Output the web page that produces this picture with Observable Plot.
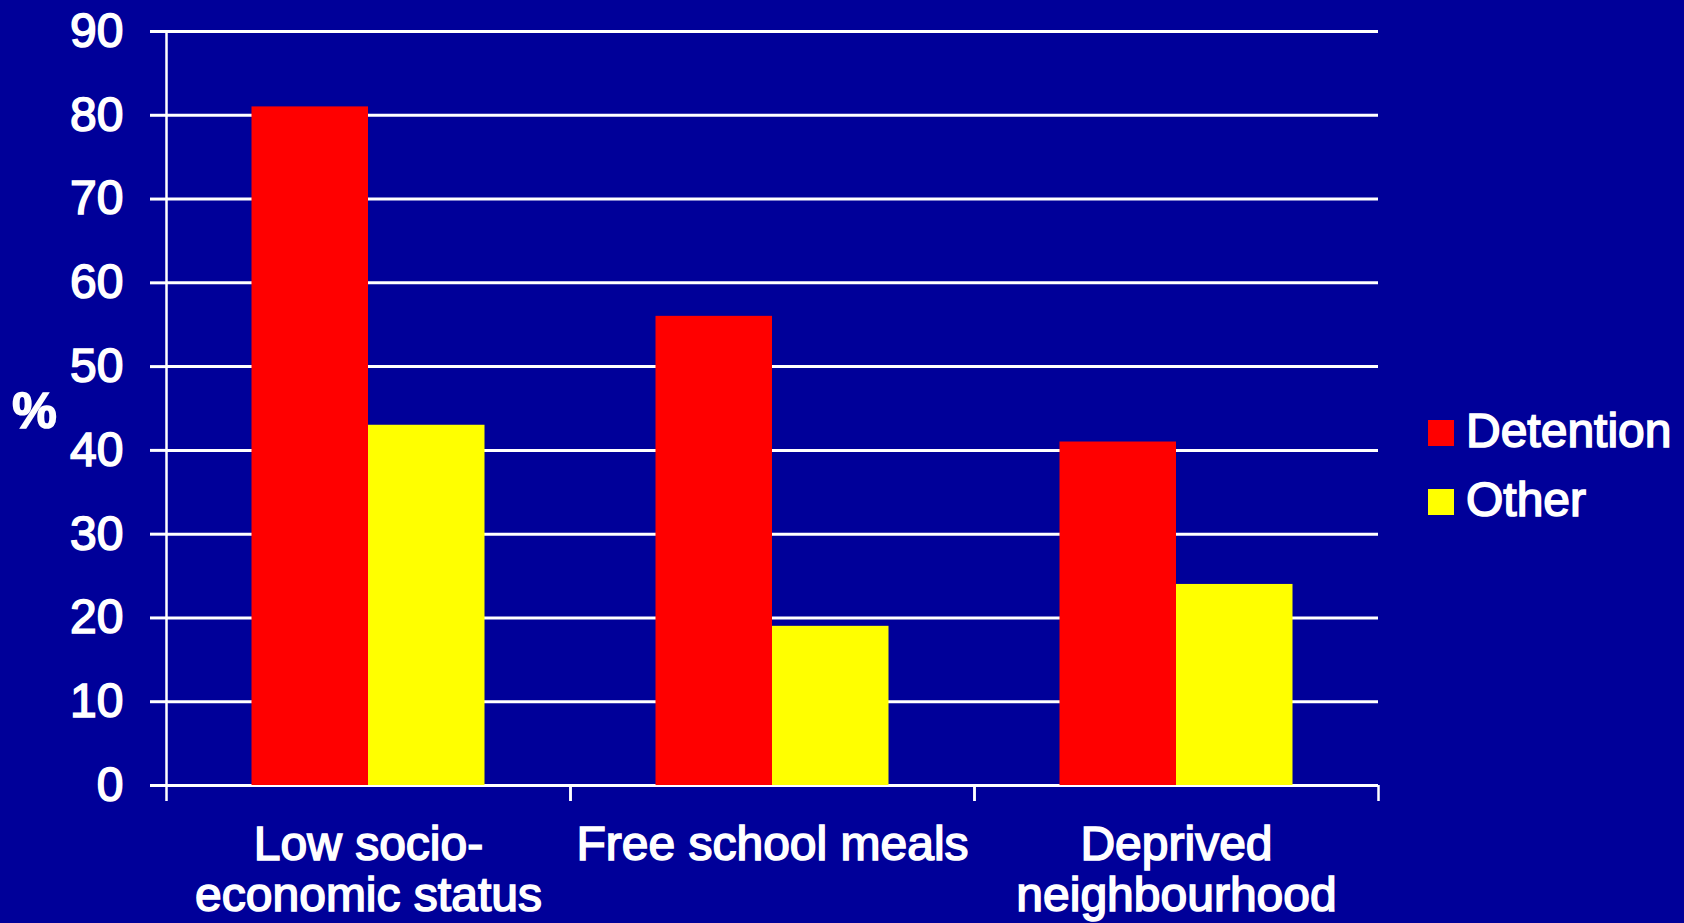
<!DOCTYPE html>
<html>
<head>
<meta charset="utf-8">
<script src="https://cdn.jsdelivr.net/npm/d3@7"></script>
<script src="https://cdn.jsdelivr.net/npm/@observablehq/plot@0.6"></script>
<style>
  html, body { margin: 0; padding: 0; background: #000099; }
  #wrap { position: relative; width: 1684px; height: 923px; overflow: hidden; }
  #wrap svg text { stroke: white; stroke-width: 1.6px; }
  #legend { position: absolute; left: 1428px; top: 396px; font-family: "Liberation Sans", Arial, sans-serif; font-size: 48px; color: white; -webkit-text-stroke: 1.6px white; }
  .item { display: flex; align-items: center; height: 69px; }
  .sw { width: 26px; height: 26px; margin-right: 12px; margin-top: 4px; }
</style>
</head>
<body>
<div id="wrap"><div id="chart"></div><div id="legend"></div></div>
<script>
const categories = ["Low socio-\neconomic status", "Free school meals", "Deprived\nneighbourhood"];
const detention = [81, 56, 41];
const other = [43, 19, 24];
const series = ["Detention", "Other"];
const seriesColors = ["#ff0000", "#ffff00"];
const yTicks = [0, 10, 20, 30, 40, 50, 60, 70, 80, 90];
const yLabel = "%";

const W = 1684, H = 923, mL = 166, mR = 306, mT = 31, mB = 138;
const bw = (W - mL - mR) / categories.length;
const barW = 116.5;
const outer = bw / 2 - barW;

const detData = categories.map((c, i) => ({category: c, value: detention[i]}));
const othData = categories.map((c, i) => ({category: c, value: other[i]}));

const chart = Plot.plot({
  width: W, height: H,
  marginLeft: mL, marginRight: mR, marginTop: mT, marginBottom: mB,
  style: {background: "#000099", color: "white", fontFamily: "Liberation Sans, Arial, sans-serif", fontSize: "48px"},
  x: {type: "band", domain: categories, padding: 0},
  y: {domain: [0, 90]},
  marks: [
    Plot.ruleY(yTicks, {stroke: "white", strokeWidth: 3}),
    Plot.frame({anchor: "left", stroke: "white", strokeWidth: 2.5}),
    Plot.barY(detData, {x: "category", y: "value", fill: seriesColors[0], insetLeft: outer, insetRight: bw / 2}),
    Plot.barY(othData, {x: "category", y: "value", fill: seriesColors[1], insetLeft: bw / 2, insetRight: outer}),
    Plot.axisY({ticks: yTicks, tickSize: 16, tickPadding: 27, strokeWidth: 3, fontSize: 48, label: null}),
    Plot.axisX({tickSize: 16, tickFormat: () => "", dx: -bw / 2, strokeWidth: 2.5, label: null}),
    Plot.axisX({tickSize: 16, tickFormat: () => "", dx: bw / 2, strokeWidth: 2.5, label: null}),
    Plot.axisX({tickSize: 0, tickPadding: 39, lineHeight: 1.05, fontSize: 48, label: null}),
    Plot.text([yLabel], {frameAnchor: "left", dx: -132, dy: 3, fontSize: 50, fontWeight: "bold", fill: "white", textAnchor: "middle"})
  ]
});
document.getElementById("chart").appendChild(chart);

const legend = d3.select("#legend");
series.forEach((s, i) => {
  const it = legend.append("div").attr("class", "item");
  it.append("div").attr("class", "sw").style("background", seriesColors[i]);
  it.append("span").text(s);
});
</script>
</body>
</html>
